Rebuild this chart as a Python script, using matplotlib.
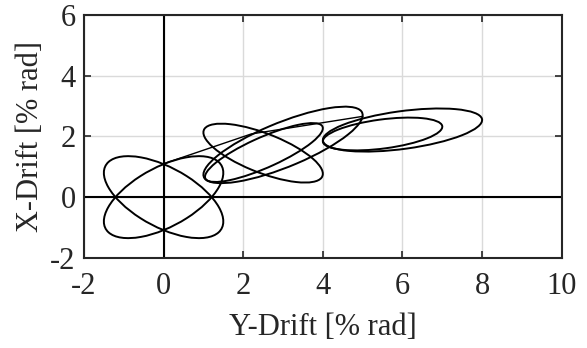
import numpy as np
import matplotlib
matplotlib.use("Agg")
import matplotlib.pyplot as plt
from matplotlib.patches import Ellipse

# Loop descriptions (data units):
# centre, half x-extent, half y-extent, y-offset at the x-extreme
loop_cx = [0.0, 0.0, 2.5, 2.52, 3.0, 5.5, 6.0]
loop_cy = [0.0, 0.0, 1.45, 1.47, 1.72, 2.08, 2.21]
loop_xhalf = [1.5, 1.5, 1.5, 1.48, 2.0, 1.5, 2.0]
loop_yhalf = [1.35, 1.35, 0.97, 0.97, 1.26, 0.54, 0.71]
loop_yoff = [0.8, -0.8, -0.68, 0.8, 0.98, 0.24, 0.33]

# Transition path between loops
link_y_drift = [0.0, 2.2, 5.0]
link_x_drift = [1.1, 2.08, 2.66]

x_ticks = [-2, 0, 2, 4, 6, 8, 10]
y_ticks = [-2, 0, 2, 4, 6]

plt.rcParams['font.family'] = ['Liberation Serif', 'DejaVu Serif']
plt.rcParams['axes.unicode_minus'] = False

text_col = '#262626'

fig = plt.figure(figsize=(5.87, 3.48), dpi=100)
ax = fig.add_axes([0.143, 0.259, 0.814, 0.698])

ax.set_xlim(-2, 10)
ax.set_ylim(-2, 6)
ax.set_xticks(x_ticks)
ax.set_yticks(y_ticks)
ax.grid(True, color='#dadada', linewidth=1.0)
ax.set_axisbelow(True)

ax.axhline(0, color='black', linewidth=1.5, zorder=2)
ax.axvline(0, color='black', linewidth=1.5, zorder=2)

for cx, cy, X, Y, yo in zip(loop_cx, loop_cy, loop_xhalf, loop_yhalf, loop_yoff):
    M = np.array([[X * X, X * yo], [X * yo, Y * Y]])
    evals, evecs = np.linalg.eigh(M)
    major = np.sqrt(evals[1])
    minor = np.sqrt(evals[0])
    angle = np.degrees(np.arctan2(evecs[1, 1], evecs[0, 1]))
    e = Ellipse((cx, cy), 2 * major, 2 * minor, angle=angle, fill=False,
                edgecolor='black', linewidth=1.4, zorder=3)
    ax.add_patch(e)

ax.plot(link_y_drift, link_x_drift, color='black', linewidth=1.0, zorder=3)

ax.tick_params(direction='in', top=True, right=True, labelsize=22,
               length=5, width=1.2, color=text_col, labelcolor=text_col)
ax.tick_params(axis='x', pad=10)
ax.tick_params(axis='y', pad=6)
for s in ax.spines.values():
    s.set_linewidth(1.5)
    s.set_color(text_col)

ax.set_xlabel('Y-Drift [% rad]', fontsize=22, color=text_col)
ax.set_ylabel('X-Drift [% rad]', fontsize=22, color=text_col)
ax.xaxis.set_label_coords(0.5, -0.225)
ax.yaxis.set_label_coords(-0.082, 0.5)

fig.savefig('out.png', dpi=100)
